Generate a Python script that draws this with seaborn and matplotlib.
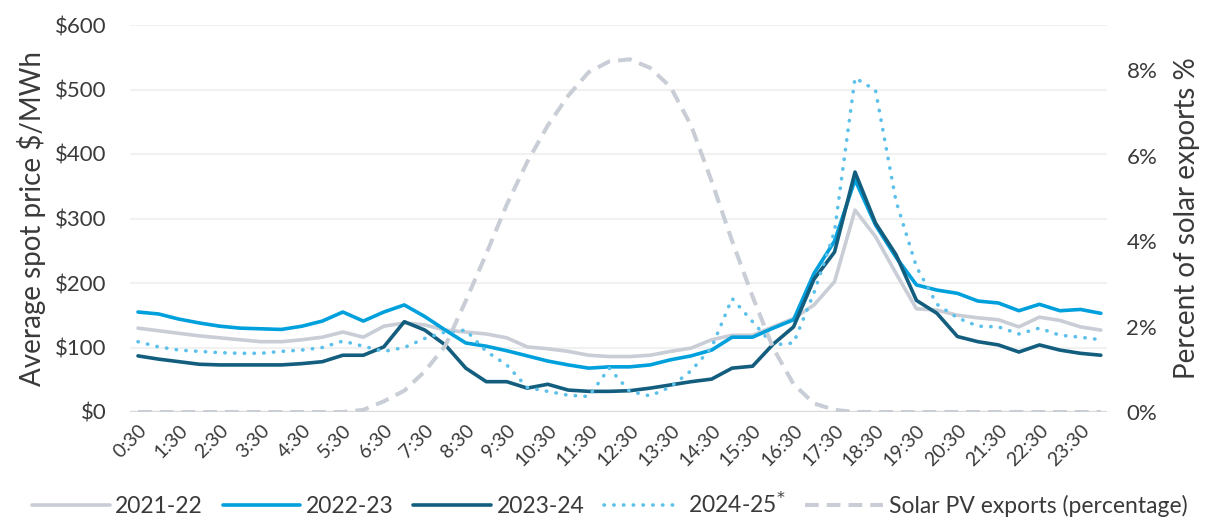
import numpy as np
import pandas as pd
import matplotlib
matplotlib.use("Agg")
import matplotlib.pyplot as plt
import seaborn as sns
from matplotlib.ticker import FuncFormatter, MultipleLocator

# half-hour periods 0:30 ... 24:00
times = [f"{(m // 60)}:{m % 60:02d}" for m in range(30, 24 * 60 + 1, 30)]
tick_labels = [f"{h}:30" for h in range(24)]

p2021_22 = [130, 126, 122, 118, 115, 112, 109, 109, 112, 116,
            124, 116, 133, 138, 135, 127, 124, 121, 115, 101,
            98, 94, 88, 86, 86, 88, 94, 99, 112, 119,
            119, 132, 145, 166, 202, 313, 272, 215, 160, 158,
            150, 146, 143, 132, 147, 142, 132, 127]
p2022_23 = [155, 152, 144, 138, 133, 130, 129, 128, 133, 141,
            155, 141, 155, 166, 148, 127, 107, 102, 95, 87,
            79, 73, 68, 70, 70, 73, 81, 87, 96, 116,
            116, 130, 143, 215, 265, 360, 290, 240, 197, 189,
            184, 172, 169, 157, 167, 157, 159, 153]
p2023_24 = [87, 82, 78, 74, 73, 73, 73, 73, 75, 78,
            88, 88, 101, 140, 127, 104, 68, 47, 47, 37,
            43, 34, 32, 32, 33, 37, 42, 47, 51, 68,
            71, 105, 132, 206, 248, 372, 293, 244, 173, 153,
            117, 109, 104, 93, 104, 96, 91, 88]
p2024_25 = [109, 101, 96, 94, 92, 91, 91, 94, 96, 100,
            110, 102, 94, 100, 114, 124, 127, 94, 73, 38,
            32, 26, 24, 68, 32, 25, 39, 64, 100, 176,
            140, 104, 107, 185, 280, 518, 499, 327, 225, 167,
            146, 133, 132, 121, 130, 119, 116, 112]
solar_pct = [0, 0, 0, 0, 0, 0, 0, 0, 0, 0,
             0, 0.05, 0.25, 0.5, 0.95, 1.55, 2.6, 3.7, 4.85, 5.85,
             6.7, 7.4, 7.95, 8.2, 8.25, 8.05, 7.6, 6.7, 5.4, 4.0,
             2.7, 1.5, 0.65, 0.2, 0.05, 0, 0, 0, 0, 0,
             0, 0, 0, 0, 0, 0, 0, 0]

series_names = ["2021-22", "2022-23", "2023-24", "2024-25$^{*}$"]
series_values = [p2021_22, p2022_23, p2023_24, p2024_25]
colors = ["#C8CDD6", "#00A0DC", "#135E7F", "#5CC1EA"]
styles = ["-", "-", "-", ":"]

sns.set_theme(style="white")
plt.rcParams["font.family"] = ["Lato", "DejaVu Sans"]
text_color = "#3a3a3a"

fig = plt.figure(figsize=(12.07, 5.19), dpi=100)
ax = fig.add_axes([130 / 1207, 1 - 412 / 519, 977 / 1207, 387 / 519])
ax2 = ax.twinx()

x = np.arange(len(times))
for name, vals, c, ls in zip(series_names, series_values, colors, styles):
    df = pd.DataFrame({"t": x, "v": vals})
    if ls == ":":
        sns.lineplot(data=df, x="t", y="v", ax=ax, color=c, linewidth=2.6,
                     linestyle=(0, (0.1, 2.6)), dash_capstyle="round",
                     label=name, legend=False)
    else:
        sns.lineplot(data=df, x="t", y="v", ax=ax, color=c, linewidth=2.6,
                     label=name, legend=False)

dfs = pd.DataFrame({"t": x, "v": solar_pct})
sns.lineplot(data=dfs, x="t", y="v", ax=ax2, color="#C8CDD6", linewidth=2.9,
             linestyle=(0, (3.4, 2.0)), label="Solar PV exports (percentage)", legend=False)

ax.set_xlim(-0.39, 47.3)
ax.set_ylim(0, 600)
ax2.set_ylim(0, 9.053)
ax.yaxis.set_major_locator(MultipleLocator(100))
ax.yaxis.set_major_formatter(FuncFormatter(lambda v, p: f"\\${v:.0f}"))
ax2.yaxis.set_major_locator(MultipleLocator(2))
ax2.yaxis.set_major_formatter(FuncFormatter(lambda v, p: f"{v:.0f}%" if v < 9 else ""))

ax.set_xticks(x[::2])
ax.set_xticklabels(tick_labels, rotation=45, ha="right", rotation_mode="anchor",
                   fontsize=14, color=text_color)
ax.tick_params(axis="x", length=0, pad=7)
ax.tick_params(axis="y", length=0, labelsize=16, labelcolor=text_color, pad=17)
ax2.tick_params(axis="y", length=0, labelsize=16, labelcolor=text_color, pad=14)

ax.grid(axis="y", color="#F1F1F1", linewidth=1.5)
ax.grid(axis="x", visible=False)
ax2.grid(False)
for a in (ax, ax2):
    for s in ["top", "left", "right", "bottom"]:
        a.spines[s].set_visible(False)
ax.axhline(0, color="#D9D9D9", linewidth=1.6, zorder=1)

ax.set_xlabel("")
ax.set_ylabel("Average spot price \\$/MWh", fontsize=20, color=text_color, labelpad=6)
ax2.set_ylabel("Percent of solar exports %", fontsize=20, color=text_color, labelpad=12)

h1, l1 = ax.get_legend_handles_labels()
h2, l2 = ax2.get_legend_handles_labels()
fig.legend(h1 + h2, l1 + l2, loc="lower center", bbox_to_anchor=(0.505, -0.035),
           ncol=5, frameon=False, fontsize=16.5, handlelength=3.4, columnspacing=0.85,
           handletextpad=0.25, labelcolor=text_color)

fig.savefig("out.png", dpi=100)
